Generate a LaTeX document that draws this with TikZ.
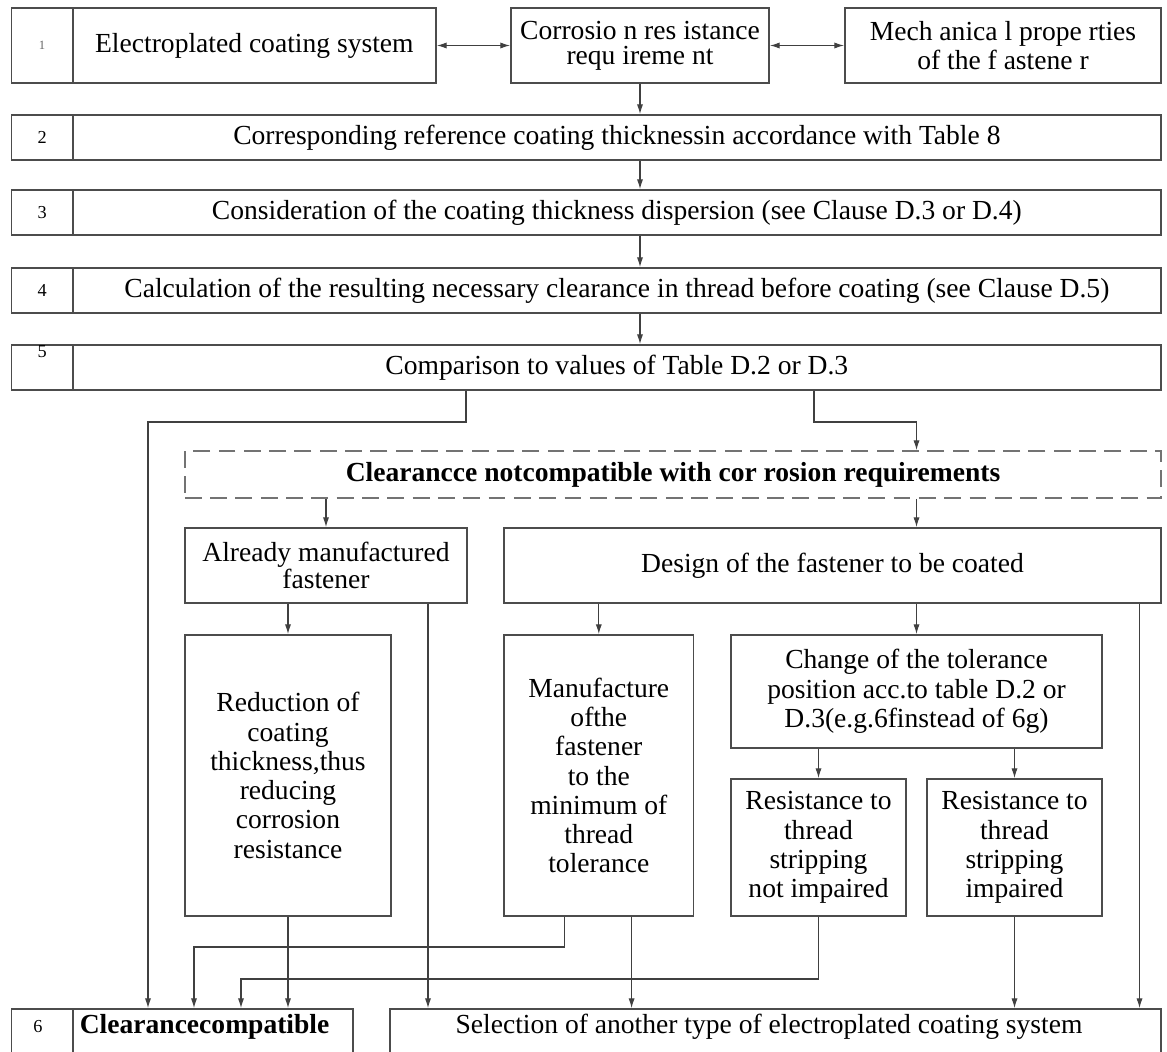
\documentclass[tikz,border=0pt]{standalone}
\usepackage{fontspec}
\setmainfont{Liberation Serif}
\usetikzlibrary{arrows.meta}

\begin{document}
\begin{tikzpicture}[x=0.025cm,y=-0.025cm,
		blk/.style={draw=black!70,line width=1.2pt,inner sep=0pt,align=center,font=\fontsize{19.6}{20.8}\selectfont},
		tight/.style={font=\fontsize{19.6}{17.8}\selectfont},
		num/.style={blk,minimum width=1.53cm,font=\fontsize{13}{14}\selectfont},
		row/.style={blk,minimum width=27.21cm,minimum height=1.125cm},
		dashbox/.style={blk,draw=black!55,dash pattern=on 12pt off 6pt},
		txt/.style={inner sep=0pt,font=\fontsize{19.6}{20.8}\selectfont},
		arr/.style={draw=black!75,line width=0.8pt,-{Latex[length=7pt,width=4.4pt]}},
		darr/.style={draw=black!75,line width=0.8pt,{Latex[length=7pt,width=4.4pt]}-{Latex[length=7pt,width=4.4pt]}}]
				\useasboundingbox (0,0) rectangle (1167,1052);
				
				\node[num,minimum height=1.875cm,font=\fontsize{9}{10}\selectfont,text=black!60] (n1) at (42.1,45.5) {1};
				\node[blk,minimum width=9.08cm,minimum height=1.875cm] (sys) at (254.35,45.5) {Electroplated coating system};
				\node[blk,tight,minimum width=6.45cm,minimum height=1.875cm] (corr) at (640,45.5) {Corrosio n res istance\\requ ireme nt};
				\node[blk,minimum width=7.9cm,minimum height=1.875cm] (mech) at (1003,45.5) {Mech anica l prope rties\\of the f astene r};
				
				\node[num,minimum height=1.125cm] (n2) at (42.1,137.5) {2};
				\node[row] (r2) at (616.85,137.5) {Corresponding reference coating thicknessin accordance with Table 8};
				\node[num,minimum height=1.125cm] (n3) at (42.1,212.5) {3};
				\node[row] (r3) at (616.85,212.5) {Consideration of the coating thickness dispersion (see Clause D.3 or D.4)};
				\node[num,minimum height=1.125cm] (n4) at (42.1,290.5) {4};
				\node[row] (r4) at (616.85,290.5) {Calculation of the resulting necessary clearance in thread before coating (see Clause D.5)};
				\node[num,minimum height=1.125cm,label={[anchor=north,inner sep=1pt,font=\fontsize{13}{14}\selectfont]north:5}] (n5) at (42.1,367.5) {};
				\node[row] (r5) at (616.85,367.5) {Comparison to values of Table D.2 or D.3};
				
				\node[dashbox,minimum width=24.4cm,minimum height=1.175cm] (ncc) at (673,474.5) {\bfseries Clearancce notcompatible with cor rosion requirements};
				
				\node[blk,tight,minimum width=7.05cm,minimum height=1.875cm] (made) at (326,565.5) {Already manufactured\\fastener};
				\node[blk,minimum width=16.425cm,minimum height=1.875cm] (design) at (832.5,565.5) {Design of the fastener to be coated};
				
				\node[blk,minimum width=5.15cm,minimum height=7.025cm] (reduce) at (288,775.5) {Reduction of\\coating\\thickness,thus\\reducing\\corrosion\\resistance};
				\node[blk,minimum width=4.74cm,minimum height=7.025cm] (manuf) at (598.8,775.5) {Manufacture\\ofthe\\fastener\\to the\\minimum of\\thread\\tolerance};
				\node[blk,minimum width=9.275cm,minimum height=2.825cm] (change) at (916.5,691.5) {Change of the tolerance\\position acc.to table D.2 or\\D.3(e.g.6finstead of 6g)};
				\node[blk,minimum width=4.375cm,minimum height=3.425cm] (resA) at (818.5,847.5) {Resistance to\\thread\\stripping\\not impaired};
				\node[blk,minimum width=4.375cm,minimum height=3.425cm] (resB) at (1014.5,847.5) {Resistance to\\thread\\stripping\\impaired};
				
				\node[num,minimum height=2cm] (n6) at (42.1,1049) {};
				\node[inner sep=0pt,font=\fontsize{13}{14}\selectfont] (n6t) at (38,1027) {6};
				\node[blk,minimum width=7.0075cm,minimum height=2cm] (clear) at (212.85,1049) {};
				\node[txt,font=\fontsize{19.6}{20.8}\selectfont\bfseries] (clearT) at (204.6,1027) {Clearancecompatible};
				\node[blk,minimum width=19.275cm,minimum height=2cm] (select) at (775.5,1049) {};
				\node[txt] (selT) at (769,1027) {Selection of another type of electroplated coating system};
				
				\draw[darr] (sys.east) -- (corr.west);
				\draw[darr] (corr.east) -- (mech.west);
				\draw[arr] (corr.south) -- (corr.south |- r2.north);
				\draw[arr] (corr.south |- r2.south) -- (corr.south |- r3.north);
				\draw[arr] (corr.south |- r3.south) -- (corr.south |- r4.north);
				\draw[arr] (corr.south |- r4.south) -- (corr.south |- r5.north);
				
				\coordinate (k1) at (466,422);
				\coordinate (k2) at (814,422);
				\coordinate (cl) at (148,422);
				\draw[arr] (r5.south -| k1) -- (k1) -- (cl) -- (cl |- clear.north);
				\draw[arr] (r5.south -| k2) -- (k2) -| (change.north |- ncc.north);
				
				\draw[arr] (made.north |- ncc.south) -- (made.north);
				\draw[arr] (change.north |- ncc.south) -- (change.north |- design.north);
				\draw[arr] (reduce.north |- made.south) -- (reduce.north);
				\coordinate (xa) at (428,0);
				\draw[arr] (xa |- made.south) -- (xa |- select.north);
				\draw[arr] (manuf.north |- design.south) -- (manuf.north);
				\draw[arr] (change.north |- design.south) -- (change.north);
				\coordinate (xd) at (1139.5,0);
				\draw[arr] (xd |- design.south) -- (xd |- select.north);
				\draw[arr] (resA.north |- change.south) -- (resA.north);
				\draw[arr] (resB.north |- change.south) -- (resB.north);
				
				\draw[arr] (reduce.south) -- (reduce.south |- clear.north);
				\coordinate (m1) at (564.5,947);
				\coordinate (m2) at (194,947);
				\draw[arr] (m1 |- manuf.south) -- (m1) -- (m2) -- (m2 |- clear.north);
				\coordinate (xm) at (631.6,0);
				\draw[arr] (xm |- manuf.south) -- (xm |- select.north);
				\coordinate (q1) at (241,979);
				\draw[arr] (resA.south) |- (q1) -- (q1 |- clear.north);
				\draw[arr] (resB.south) -- (resB.south |- select.north);
			\end{tikzpicture}
\end{document}
